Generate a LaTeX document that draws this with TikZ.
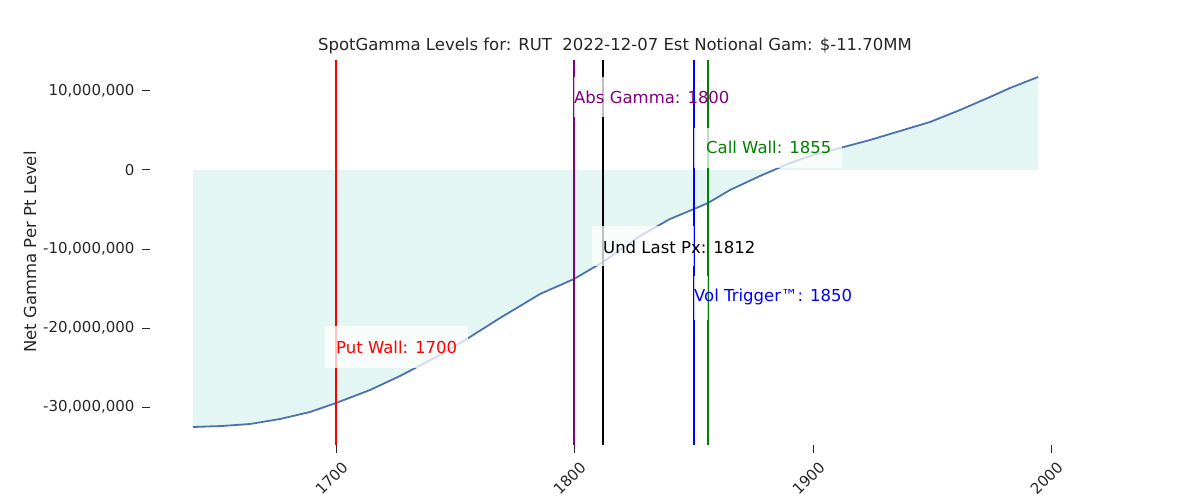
\documentclass[tikz,border=0pt]{standalone}
\usepackage{fontspec}
\setmainfont{DejaVu Sans}
\definecolor{fillc}{RGB}{228,246,243}
\definecolor{curvec}{RGB}{76,114,176}
\definecolor{purp}{RGB}{128,0,128}
\definecolor{gr}{RGB}{0,128,0}
\begin{document}
\begin{tikzpicture}[x=1pt,y=-1pt,
  lab/.style={font=\fontsize{16.5}{19}\selectfont,inner sep=0pt},
  tick/.style={font=\fontsize{15}{17}\selectfont,text=black!85},
  vl/.style={line width=1.8pt},
  bx/.style={fill=white,fill opacity=0.75,inner sep=0pt}]
\useasboundingbox (0,0) rectangle (1200,500);
\def\curve{(193,427) -- (222,426) -- (250,424) -- (280,419) -- (310,412) -- (336,403) -- (370,390) -- (400,376) -- (440,355) -- (470,337) -- (500,318) -- (540,294) -- (574,279) -- (603,262) -- (640,236) -- (670,219) -- (694,209) -- (708,203) -- (730,190) -- (760,176) -- (790,163) -- (813,155) -- (840,148) -- (870,140) -- (900,131) -- (930,122) -- (960,110) -- (990,97) -- (1010,88) -- (1038,77)}
\fill[fillc] (193,170) -- \curve -- (1038,170) -- cycle;
\draw[line width=1.8pt,curvec] \curve;
\draw[vl,red] (336,60) -- (336,445);
\draw[vl,purp] (574,60) -- (574,445);
\draw[vl,black] (603,60) -- (603,445);
\draw[vl,blue] (694,60) -- (694,445);
\draw[vl,gr] (708,60) -- (708,445);
% label boxes
\node[bx,minimum width=143,minimum height=42,anchor=north west] (pwb) at (325,326) {};
\node[bx,minimum width=30,minimum height=40,anchor=north west] (agb) at (574,77) {};
\node[bx,minimum width=148,minimum height=40,anchor=north west] (cwb) at (694,128) {};
\node[bx,minimum width=102,minimum height=40,anchor=north west] (ulb) at (592,226) {};
\node[bx,minimum width=14,minimum height=44,anchor=north west] (vtb) at (694,276) {};
\node[lab,text=red,anchor=west] (pw) at (336,347) {Put Wall: 1700};
\node[lab,text=purp,anchor=west] (ag) at (574,97) {Abs Gamma: 1800};
\node[lab,text=gr,anchor=west] (cw) at (706,147) {Call Wall: 1855};
\node[lab,anchor=west] (ul) at (603,247) {Und Last Px: 1812};
\node[lab,text=blue,anchor=west] (vt) at (694,297) {Vol Trigger™: 1850};
% title & ylabel
\node[lab,text=black!85] (tt) at (615,46) {SpotGamma Levels for: RUT\ \ 2022-12-07 Est Notional Gam: \$-11.70MM};
\node[lab,text=black!85,rotate=90] (yl) at (30,252) {Net Gamma Per Pt Level};
% y ticks
\foreach \v/\t in {91/{10,000,000},170/0,249/{-10,000,000},328/{-20,000,000},407/{-30,000,000}}{
  \draw[black!85,line width=1pt] (142,\v) -- (150,\v);
  \node[tick,anchor=east] at (138,\v) {\t};}
% x ticks
\foreach \x/\t in {336/1700,574/1800,813/1900,1051/2000}{
  \draw[black!85,line width=1pt] (\x,445) -- (\x,453);
  \node[tick,anchor=north east,rotate=45,inner sep=1pt] at (\x+5,459) {\t};}
\end{tikzpicture}
\end{document}
